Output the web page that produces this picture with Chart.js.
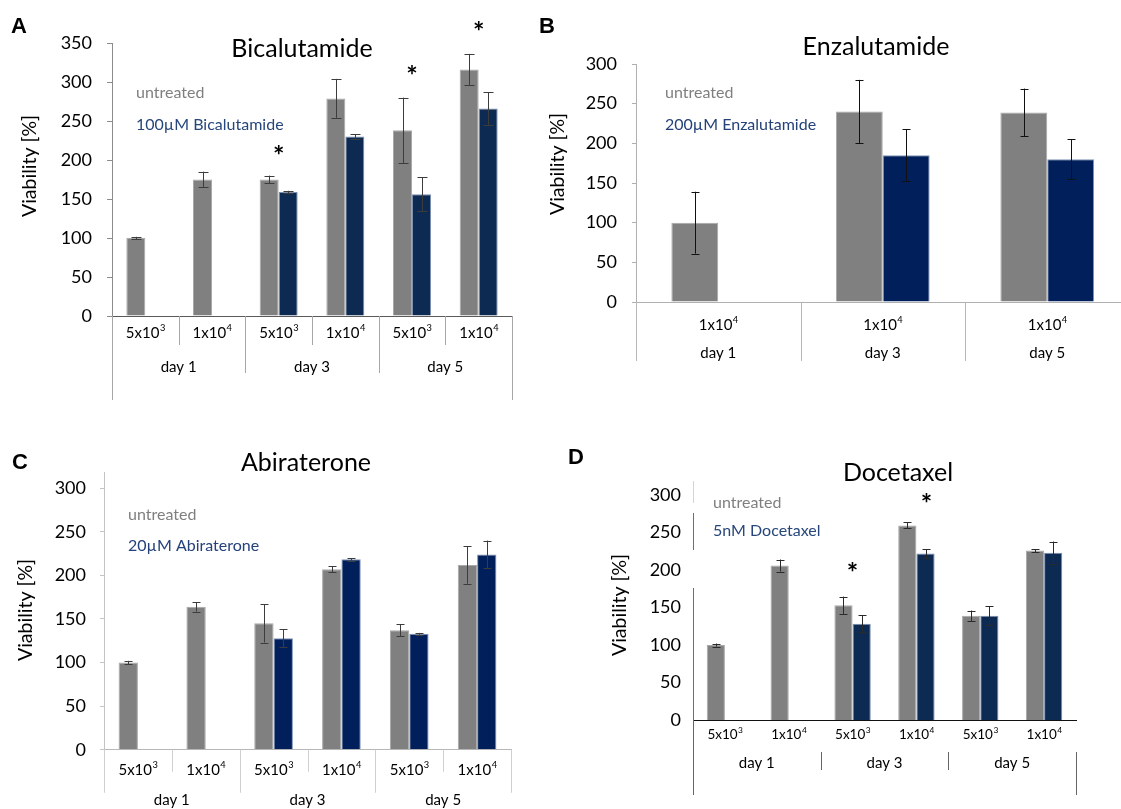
<!DOCTYPE html>
<html>
<head>
<meta charset="utf-8">
<script src="https://cdn.jsdelivr.net/npm/chart.js@4.4.1/dist/chart.umd.min.js"></script>
<style>
html,body{margin:0;padding:0;background:#fff;overflow:hidden;width:1121px;height:809px;position:relative}
canvas{position:absolute}
</style>
</head>
<body>
<canvas id="chartA" width="530" height="420" style="left:0;top:0"></canvas>
<canvas id="chartB" width="620" height="420" style="left:530px;top:0"></canvas>
<canvas id="chartC" width="540" height="379" style="left:0;top:430px"></canvas>
<canvas id="chartD" width="581" height="379" style="left:540px;top:430px"></canvas>
<script>
// cell labels use ^ for the exponent
const days = ['day 1', 'day 3', 'day 5'];
const ticks350 = [0, 50, 100, 150, 200, 250, 300, 350];
const ticks300 = [0, 50, 100, 150, 200, 250, 300];

const cellsA = ['5x10^3', '1x10^4', '5x10^3', '1x10^4', '5x10^3', '1x10^4'];
const legendA = ['untreated', '100µM Bicalutamide'];
const untreatedA = [100, 175, 175, 279, 238, 316];
const untreatedErrA = [1.5, 10, 5, 25, 42, 20];
const treatedA = [null, null, 159, 230, 156, 266];
const treatedErrA = [null, null, 1.5, 3, 22, 21];
const starCatsA = [2, 4, 5];
const starValsA = [213, 316, 372];
const starShiftA = [0, 0, 0];

const cellsB = ['1x10^4', '1x10^4', '1x10^4'];
const legendB = ['untreated', '200µM Enzalutamide'];
const untreatedB = [100, 240, 239];
const untreatedErrB = [39, 40, 30];
const treatedB = [null, 185, 180];
const treatedErrB = [null, 33, 25];

const cellsC = ['5x10^3', '1x10^4', '5x10^3', '1x10^4', '5x10^3', '1x10^4'];
const legendC = ['untreated', '20µM Abiraterone'];
const untreatedC = [100, 164, 145, 207, 137, 212];
const untreatedErrC = [2, 5.5, 22, 3.5, 7, 21.5];
const treatedC = [null, null, 128, 218.5, 133, 224];
const treatedErrC = [null, null, 10, 1.5, 1, 16];

const cellsD = ['5x10^3', '1x10^4', '5x10^3', '1x10^4', '5x10^3', '1x10^4'];
const legendD = ['untreated', '5nM Docetaxel'];
const untreatedD = [100, 206, 153, 259.5, 139, 226];
const untreatedErrD = [2, 8, 11.5, 4, 7, 2];
const treatedD = [null, null, 128.5, 222, 139, 223];
const treatedErrD = [null, null, 11, 6, 12.5, 15];
const starCatsD = [2, 3];
const starValsD = [204, 296];
const starShiftD = [0, 0.55];

function vline(ctx, x, y0, y1, color){
  if (y1 <= y0) return;
  ctx.save();
  ctx.strokeStyle = color; ctx.lineWidth = 1;
  ctx.beginPath();
  ctx.moveTo(Math.round(x) + 0.5, y0);
  ctx.lineTo(Math.round(x) + 0.5, y1);
  ctx.stroke();
  ctx.restore();
}

function drawCell(ctx, text, cx, cy, size){
  const parts = text.split('^');
  ctx.font = size + 'px Lato';
  const wb = ctx.measureText(parts[0]).width;
  ctx.font = (size * 0.62) + 'px Lato';
  const we = parts[1] ? ctx.measureText(parts[1]).width : 0;
  const x0 = cx - (wb + we) / 2;
  ctx.textAlign = 'left'; ctx.textBaseline = 'middle'; ctx.fillStyle = '#000';
  ctx.font = size + 'px Lato';
  ctx.fillText(parts[0], x0, cy);
  if (parts[1]) {
    ctx.font = (size * 0.62) + 'px Lato';
    ctx.fillText(parts[1], x0 + wb + 0.5, cy - size * 0.33);
  }
}

const decor = {
  id: 'decor',
  afterDatasetsDraw(chart, args, o){
    const ctx = chart.ctx, y = chart.scales.y;
    chart.data.datasets.forEach((ds, di) => {
      chart.getDatasetMeta(di).data.forEach((bar, i) => {
        const v = ds.data[i], e = ds.errors[i];
        if (v == null || e == null) return;
        const top = y.getPixelForValue(v + e), bot = y.getPixelForValue(v - e);
        const bx = Math.round(bar.x) + 0.5;
        ctx.save();
        ctx.strokeStyle = o.errColor; ctx.lineWidth = 1;
        ctx.beginPath();
        ctx.moveTo(bx, top); ctx.lineTo(bx, bot);
        ctx.moveTo(bx - o.cap, Math.round(top) + 0.5); ctx.lineTo(bx + o.cap, Math.round(top) + 0.5);
        ctx.moveTo(bx - o.cap, Math.round(bot) + 0.5); ctx.lineTo(bx + o.cap, Math.round(bot) + 0.5);
        ctx.stroke();
        ctx.restore();
      });
    });
  },
  afterDraw(chart, args, o){
    const ctx = chart.ctx, x = chart.scales.x, y = chart.scales.y, a = chart.chartArea;
    const labels = chart.data.labels, n = labels.length;
    const step = n > 1 ? x.getPixelForValue(1) - x.getPixelForValue(0) : (a.right - a.left);
    const per = n / days.length, st = o.axis;

    // breaks in the value axis line (D)
    (o.axisGaps || []).forEach(g => {
      ctx.save();
      ctx.fillStyle = 'rgba(255,255,255,' + g[2] + ')';
      ctx.fillRect(a.left - 2, g[0], 5, g[1] - g[0]);
      ctx.restore();
    });

    // category and day dividers under the axis
    for (let i = 0; i <= n; i++) {
      const bx = x.getPixelForValue(0) - step / 2 + i * step;
      if (i === 0) vline(ctx, bx, a.bottom + st.leftStart, a.bottom + st.outerEnd, st.color);
      else if (i === n) vline(ctx, bx, a.bottom + st.rightStart, a.bottom + st.outerEnd, st.color);
      else if (i % per === 0) vline(ctx, bx, a.bottom + st.dayStart, a.bottom + st.dayEnd, st.color);
      else vline(ctx, bx, a.bottom, a.bottom + st.subEnd, st.color);
    }
    labels.forEach((t, i) => drawCell(ctx, t, x.getPixelForValue(i), a.bottom + st.subY, st.subSize));
    ctx.save();
    ctx.fillStyle = '#000'; ctx.textAlign = 'center'; ctx.textBaseline = 'middle';
    ctx.font = st.daySize + 'px Lato';
    days.forEach((d, g) => {
      const cx = (x.getPixelForValue(g * per) + x.getPixelForValue(g * per + per - 1)) / 2;
      ctx.fillText(d, cx, a.bottom + st.dayY);
    });

    // significance marks
    const bw = chart.getDatasetMeta(0).data[0].width;
    const ss = 27;
    ctx.font = 'bold ' + ss + 'px Lato';
    (o.starCats || []).forEach((c, k) => {
      const sx = x.getPixelForValue(c) + o.starShift[k] * bw;
      ctx.fillText('*', sx, y.getPixelForValue(o.starVals[k]) + 0.24 * ss);
    });

    // panel letter, title, legend text, axis title
    ctx.font = 'bold 22px "Liberation Sans"';
    ctx.fillText(o.letter, o.letterPos[0], o.letterPos[1]);
    ctx.font = '25px Lato';
    ctx.fillText(o.title, o.titlePos[0], o.titlePos[1]);
    ctx.textAlign = 'left';
    ctx.font = '16px Lato';
    ctx.fillStyle = '#7f7f7f';
    ctx.fillText(o.legend[0], o.legendX, o.legendY[0]);
    ctx.fillStyle = o.legendBlue;
    ctx.fillText(o.legend[1], o.legendX, o.legendY[1]);
    ctx.translate(o.yTitlePos[0], o.yTitlePos[1]);
    ctx.rotate(-Math.PI / 2);
    ctx.textAlign = 'center';
    ctx.fillStyle = '#000';
    ctx.font = '19.5px Lato';
    ctx.fillText('Viability [%]', 0, 0);
    ctx.restore();
  }
};

function makeChart(id, p){
  const cv = document.getElementById(id);
  const W = cv.width, H = cv.height;
  return new Chart(cv, {
    type: 'bar',
    data: {
      labels: p.cells,
      datasets: [
        { data: p.untreated, errors: p.untreatedErr, backgroundColor: '#808080', borderColor: '#a8a8a8', borderWidth: 1 },
        { data: p.treated, errors: p.treatedErr, backgroundColor: p.blue, borderColor: p.blueEdge, borderWidth: 1 }
      ]
    },
    options: {
      responsive: false,
      animation: false,
      categoryPercentage: 0.57,
      barPercentage: 1,
      layout: { padding: { top: p.area.top, right: W - p.area.right, left: 0, bottom: 0 } },
      plugins: {
        legend: { display: false },
        tooltip: { enabled: false },
        decor: p.decor
      },
      scales: {
        x: {
          z: 1,
          grid: { display: false, drawTicks: false },
          border: { color: p.xColor, width: 1 },
          ticks: { display: false },
          afterFit: s => { s.height = H - p.area.bottom; }
        },
        y: {
          min: 0, max: p.yMax,
          grid: { display: p.tickLen > 0, drawOnChartArea: false, drawTicks: p.tickLen > 0, tickLength: p.tickLen, color: p.yColor },
          border: { color: p.yColor, width: 1 },
          ticks: { padding: p.tickPad, color: '#000', font: { family: 'Lato', size: 18 } },
          afterBuildTicks: s => { s.ticks = p.ticks.map(v => ({ value: v })); },
          afterFit: s => { s.width = p.area.left; }
        }
      }
    },
    plugins: [decor]
  });
}

makeChart('chartA', {
  cells: cellsA, untreated: untreatedA, untreatedErr: untreatedErrA, treated: treatedA, treatedErr: treatedErrA,
  blue: '#0d2a52', blueEdge: '#7d8fae', xColor: '#5a5a5a', yColor: '#8c8c8c',
  area: { left: 112, right: 512, top: 43, bottom: 316 }, yMax: 350, ticks: ticks350, tickLen: 5, tickPad: 15,
  decor: {
    errColor: '#3c3c3c', cap: 5,
    letter: 'A', letterPos: [19, 27], title: 'Bicalutamide', titlePos: [302, 49],
    legend: legendA, legendX: 136, legendY: [93, 125], legendBlue: '#27467a', yTitlePos: [30, 166],
    starCats: starCatsA, starVals: starValsA, starShift: starShiftA,
    axis: { color: '#a6a6a6', subY: 17, dayY: 51, subEnd: 29, dayStart: 0, dayEnd: 57, leftStart: 0, rightStart: 0, outerEnd: 84, subSize: 15, daySize: 15 }
  }
});

makeChart('chartB', {
  cells: cellsB, untreated: untreatedB, untreatedErr: untreatedErrB, treated: treatedB, treatedErr: treatedErrB,
  blue: '#001f5b', blueEdge: '#8193b8', xColor: '#b0b0b0', yColor: '#b0b0b0',
  area: { left: 106, right: 599.5, top: 64, bottom: 302 }, yMax: 300, ticks: ticks300, tickLen: 4, tickPad: 15,
  decor: {
    errColor: '#111', cap: 4,
    letter: 'B', letterPos: [17, 27], title: 'Enzalutamide', titlePos: [346, 47],
    legend: legendB, legendX: 135, legendY: [93, 125], legendBlue: '#24417a', yTitlePos: [28, 164],
    axis: { color: '#b8b8b8', subY: 23, dayY: 51, subEnd: 0, dayStart: 0, dayEnd: 59, leftStart: 0, rightStart: 0, outerEnd: 59, subSize: 15, daySize: 15 }
  }
});

makeChart('chartC', {
  cells: cellsC, untreated: untreatedC, untreatedErr: untreatedErrC, treated: treatedC, treatedErr: treatedErrC,
  blue: '#001f5b', blueEdge: '#8193b8', xColor: '#b8b8b8', yColor: '#c4c4c4',
  area: { left: 104, right: 511, top: 42.6, bottom: 319.7 }, yMax: 318, ticks: ticks300, tickLen: 4, tickPad: 14,
  decor: {
    errColor: '#3c3c3c', cap: 4,
    letter: 'C', letterPos: [20, 33], title: 'Abiraterone', titlePos: [306, 33],
    legend: legendC, legendX: 128, legendY: [85, 116], legendBlue: '#24417a', yTitlePos: [26, 180],
    axis: { color: '#cfcfcf', subY: 20, dayY: 50, subEnd: 22, dayStart: 0, dayEnd: 43, leftStart: 0, rightStart: 0, outerEnd: 43, subSize: 15, daySize: 15 }
  }
});

makeChart('chartD', {
  cells: cellsD, untreated: untreatedD, untreatedErr: untreatedErrD, treated: treatedD, treatedErr: treatedErrD,
  blue: '#0d2a52', blueEdge: '#7d8fae', xColor: '#111', yColor: '#6f6f6f',
  area: { left: 153, right: 536, top: 51.5, bottom: 290 }, yMax: 318, ticks: ticks300, tickLen: 0, tickPad: 12,
  decor: {
    errColor: '#2a2a2a', cap: 4,
    letter: 'D', letterPos: [36, 28], title: 'Docetaxel', titlePos: [358, 43],
    legend: legendD, legendX: 173, legendY: [73, 101], legendBlue: '#27467a', yTitlePos: [80, 175],
    starCats: starCatsD, starVals: starValsD, starShift: starShiftD,
    axisGaps: [[51, 73, 0.7], [73, 83, 1], [120, 158, 1]],
    axis: { color: '#666', subY: 15, dayY: 43, subEnd: 0, dayStart: 32, dayEnd: 50, leftStart: 0, rightStart: 32, outerEnd: 75, subSize: 13.5, daySize: 15 }
  }
});
</script>
</body>
</html>
